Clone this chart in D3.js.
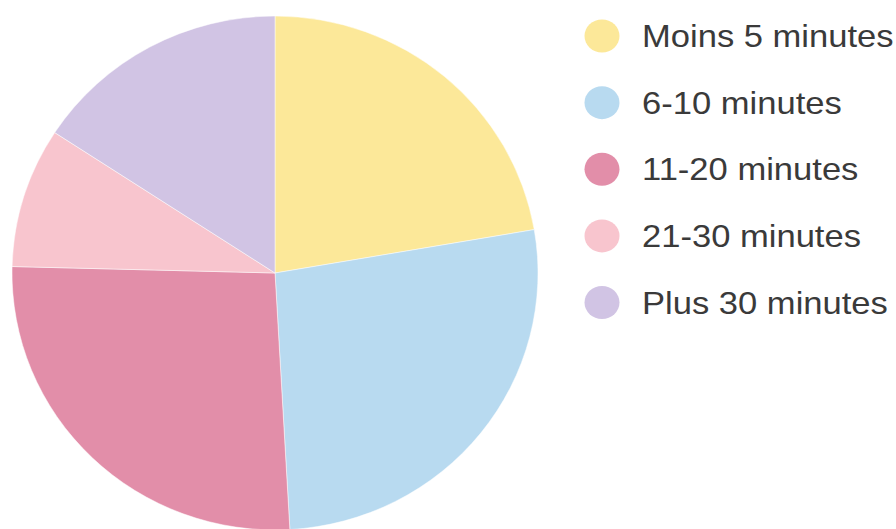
<!DOCTYPE html>
<html>
  <head>
    <meta charset="utf-8">
    <title>Temps de trajet</title>
    <script src="https://d3js.org/d3.v7.min.js"></script>
    <style>
      body { margin: 0; background: #fff; }
      svg { display: block; }
      .legend-label { font-family: "Liberation Sans", Arial, sans-serif; font-size: 32px; fill: #3a3a3a; }
    </style>
  </head>
  <body>
    <div id="chart"></div>
    <script>
      // categories and values (share of answers)
      const categories = ['Moins 5 minutes', '6-10 minutes', '11-20 minutes', '21-30 minutes', 'Plus 30 minutes'];
      const values = [22.3, 26.8, 26.3, 8.8, 15.8];
      const colors = ['#fce899', '#b8daf0', '#e28ea9', '#f8c5ce', '#d1c4e4'];

      const width = 896, height = 529;
      const svg = d3.select('#chart').append('svg')
        .attr('width', width)
        .attr('height', height);

      const data = categories.map((c, i) => ({ name: c, value: values[i] }));

      const colorScale = d3.scaleOrdinal()
        .domain(categories)
        .range(colors);

      const radius = 263;
      const pie = d3.pie().sort(null).value(d => d.value);
      const arc = d3.arc().innerRadius(0).outerRadius(radius);

      // picture is slightly squashed vertically
      const pieG = svg.append('g')
        .attr('transform', 'translate(275,273) scale(1,0.977)');

      pieG.selectAll('path')
        .data(pie(data))
        .enter().append('path')
          .attr('d', arc)
          .attr('fill', d => colorScale(d.data.name))
          .attr('stroke', '#fff')
          .attr('stroke-width', 0.5);

      // legend
      const legendY = d3.scalePoint()
        .domain(categories)
        .range([36, 302.5]);

      const legendG = svg.append('g');
      const items = legendG.selectAll('g')
        .data(categories)
        .enter().append('g')
          .attr('transform', d => `translate(602,${legendY(d)})`);

      items.append('ellipse')
        .attr('rx', 17.5)
        .attr('ry', 16.5)
        .attr('fill', d => colorScale(d));

      items.append('text')
        .attr('class', 'legend-label')
        .attr('transform', 'translate(40,0) scale(1.08,1)')
        .attr('dy', '0.35em')
        .text(d => d);
    </script>
  </body>
</html>
